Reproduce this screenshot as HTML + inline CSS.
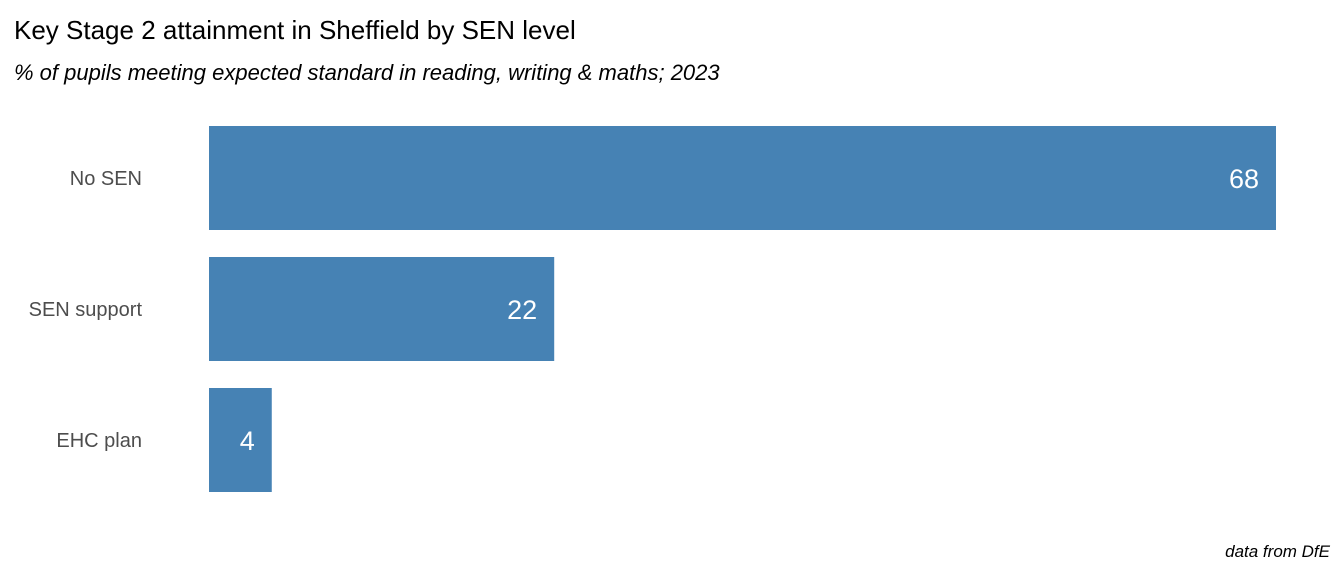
<!DOCTYPE html>
<html><head><meta charset="utf-8"><style>
html,body{margin:0;padding:0;background:#fff;}
body{width:1344px;height:576px;overflow:hidden;font-family:"Liberation Sans",Arial,sans-serif;}
</style></head><body>
<svg width="1344" height="576" xmlns="http://www.w3.org/2000/svg">
<text x="14" y="39" font-size="26" fill="#000">Key Stage 2 attainment in Sheffield by SEN level</text>
<text x="14" y="80" font-size="22" font-style="italic" fill="#000">% of pupils meeting expected standard in reading, writing &amp; maths; 2023</text>
<text x="1330" y="557" font-size="17" font-style="italic" text-anchor="end" fill="#000">data from DfE</text>
<g id="bars"></g>
</svg>
<script>
const categories = ["No SEN", "SEN support", "EHC plan"];
const values = [68, 22, 4];
const x0 = 209, pxPerUnit = (1276 - 209) / 68;
function xScale(v){ return x0 + v * pxPerUnit; }
function yScale(i){ return 126 + i * 131; }
const bandH = 104;
const NS = "http://www.w3.org/2000/svg";
const g = document.getElementById("bars");
categories.forEach((c, i) => {
  const y = yScale(i);
  const r = document.createElementNS(NS, "rect");
  r.setAttribute("x", x0);
  r.setAttribute("y", y);
  r.setAttribute("width", xScale(values[i]) - x0);
  r.setAttribute("height", bandH);
  r.setAttribute("fill", "#4682b4");
  
  
  g.appendChild(r);
  const lab = document.createElementNS(NS, "text");
  lab.setAttribute("x", 142);
  lab.setAttribute("y", y + bandH / 2 + 7);
  lab.setAttribute("text-anchor", "end");
  lab.setAttribute("font-size", "20");
  lab.setAttribute("fill", "#4d4d4d");
  lab.textContent = c;
  
  
  g.appendChild(lab);
  const vt = document.createElementNS(NS, "text");
  vt.setAttribute("x", xScale(values[i]) - 17);
  vt.setAttribute("y", y + bandH / 2 + 10);
  vt.setAttribute("text-anchor", "end");
  vt.setAttribute("font-size", "27");
  vt.setAttribute("fill", "#fff");
  vt.textContent = values[i];
  
  
  g.appendChild(vt);
});
</script>
</body></html>
